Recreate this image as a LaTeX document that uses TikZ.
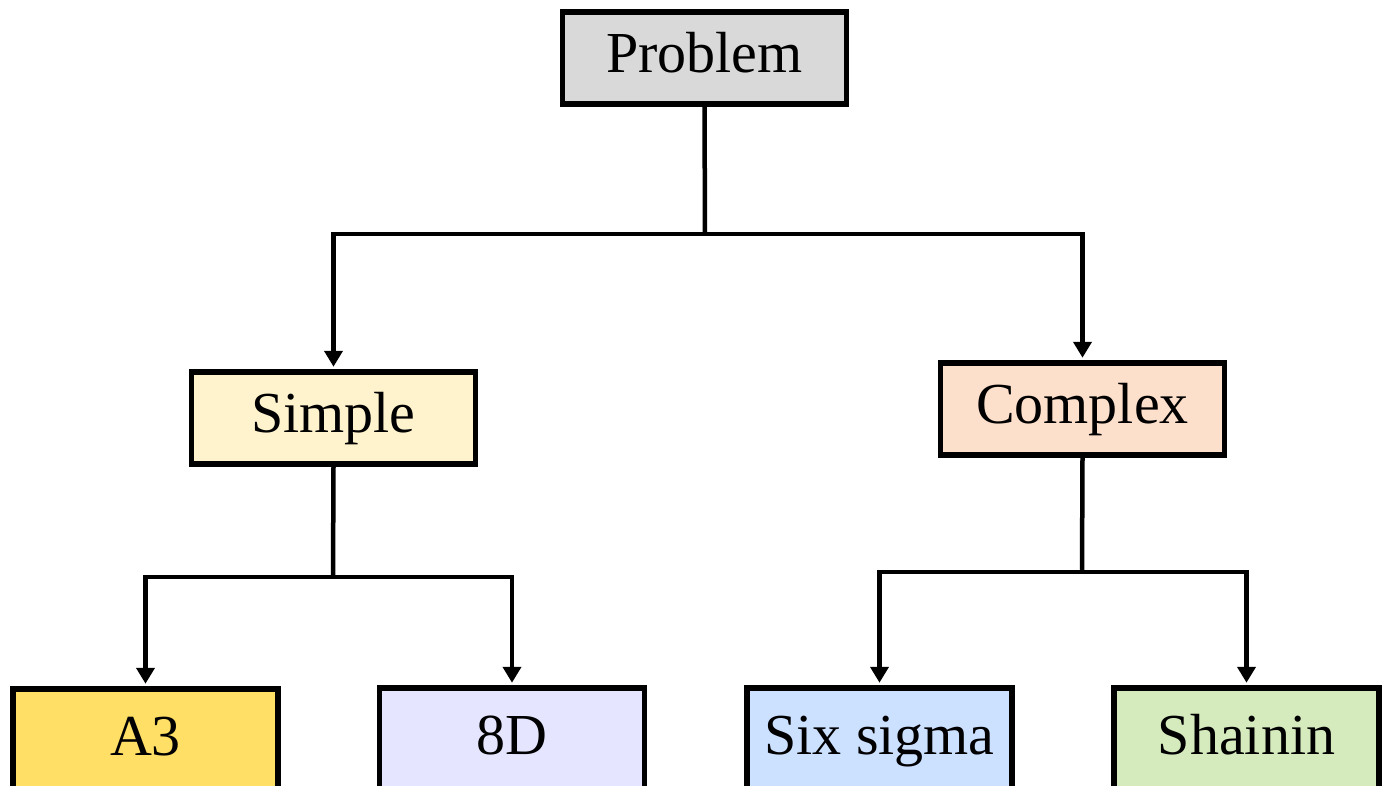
\documentclass[tikz,border=0pt]{standalone}
\usepackage{fontspec}
\setmainfont{Liberation Serif}
\usetikzlibrary{arrows.meta}
\definecolor{probgray}{HTML}{D9D9D9}
\definecolor{simplefill}{HTML}{FFF3CD}
\definecolor{complexfill}{HTML}{FDE0CB}
\definecolor{athreefill}{HTML}{FFDF66}
\definecolor{eightdfill}{HTML}{E5E5FF}
\definecolor{sixfill}{HTML}{CCE0FF}
\definecolor{shaininfill}{HTML}{D5EBBE}
\begin{document}
\begin{tikzpicture}[x=1pt,y=-1pt,
  box/.style={draw, line width=5.5pt, inner sep=0pt,
    text height=41pt, text depth=13pt,
    font=\fontsize{58}{70}\selectfont},
  topbox/.style={box, minimum width=284pt, minimum height=92pt},
  leafbox/.style={box, minimum width=265pt, minimum height=104pt},
  wire/.style={line width=4.5pt},
  arrow/.style={wire, -{Triangle[length=16pt,width=18pt]}, shorten >=2.5pt}]
\useasboundingbox (0,0) rectangle (1387,785);
\clip (0,0) rectangle (1387,785);

% Tree nodes
\node[topbox, fill=probgray]    (problem) at (704.5,58)  {Problem};
\node[topbox, fill=simplefill]  (simple)  at (333.5,418) {Simple};
\node[topbox, fill=complexfill] (complex) at (1082.5,409) {Complex};
\node[leafbox, fill=athreefill]  (a3)      at (145.5,741)  {A3};
\node[leafbox, fill=eightdfill]  (eightd)  at (512,740)    {8D};
\node[leafbox, fill=sixfill]     (six)     at (879.5,740)  {Six sigma};
\node[leafbox, fill=shaininfill] (shainin) at (1246.5,740) {Shainin};

% Junctions of the elbow connectors
\coordinate (j1) at (705,234);
\coordinate (j2) at (333,577);
\coordinate (j3) at (1082,572);

\draw[wire] (problem.south) -- (j1);
\draw[arrow] (j1) -| (simple.north);
\draw[arrow] (j1) -| (complex.north);

\draw[wire] (simple.south) -- (j2);
\draw[arrow] (j2) -| (a3.north);
\draw[arrow] (j2) -| (eightd.north);

\draw[wire] (complex.south) -- (j3);
\draw[arrow] (j3) -| (six.north);
\draw[arrow] (j3) -| (shainin.north);
\end{tikzpicture}
\end{document}
